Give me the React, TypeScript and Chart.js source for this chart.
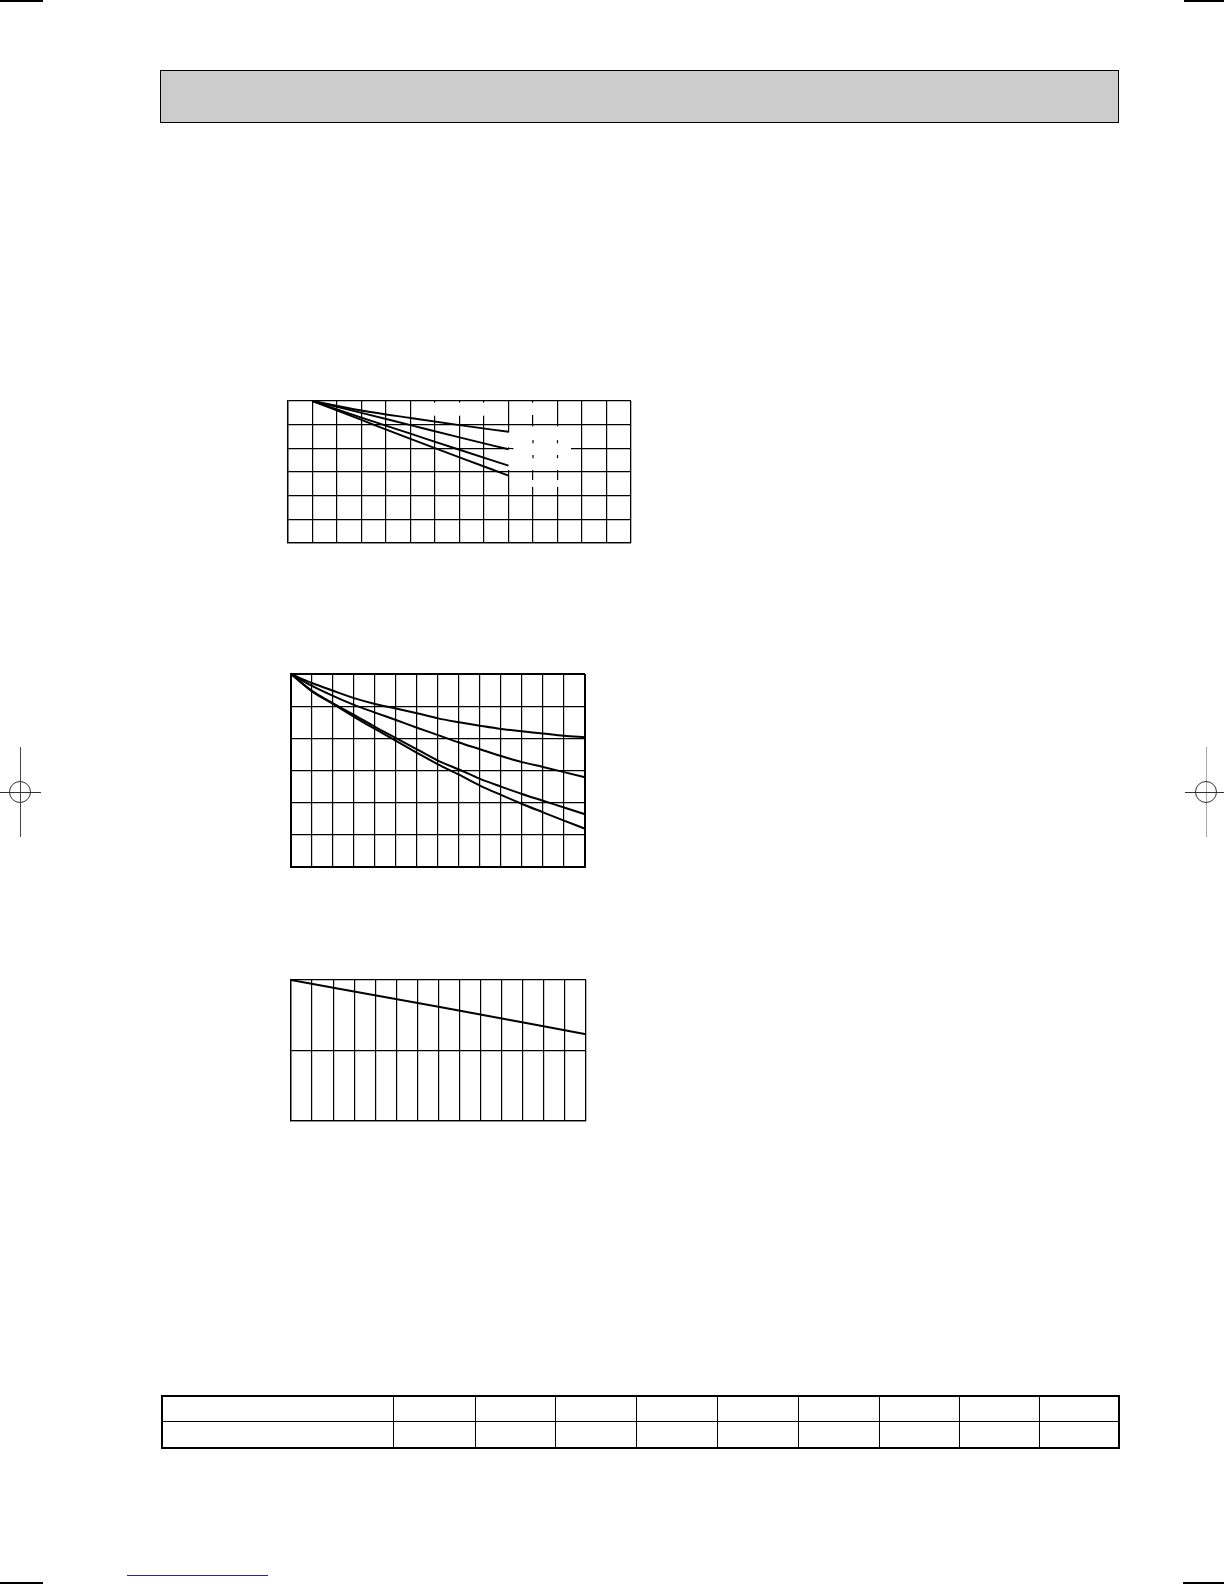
import { useEffect, useRef } from "react";
import { Chart, registerables } from "chart.js";

Chart.register(...registerables);

// chart 1: x in grid columns (0..14), y in grid rows counted downward (0..6)
const c1X = [1, 3, 5, 7, 9];
const c1A = [0, 0.4, 0.72, 1.02, 1.3];
const c1B = [0, 0.5, 1.02, 1.54, 2.04];
const c1C = [0, 0.7, 1.38, 2.06, 2.73];
const c1D = [0, 0.8, 1.6, 2.38, 3.15];
// small tick remnants left inside the blanked area
const c1DotX = [10, 11, 10, 11];
const c1DotY = [1.72, 1.72, 2.35, 2.35];
// blanked grid regions [x0, x1, y0, y1]
const c1Blank: number[][] = [
  [5.7, 8.3, 0.07, 0.62],
  [9.7, 10.3, 0.07, 0.59],
  [9.2, 11.55, 1.07, 2.92],
  [8.85, 9.15, 1.33, 1.96],
  [8.85, 9.15, 2.04, 2.92],
  [9.7, 11.3, 3.34, 3.63],
];

// chart 2
const c2X = [0, 1, 2, 3, 4, 5, 6, 7, 8, 9, 10, 11, 12, 13, 14];
const c2A = [0, 0.28, 0.52, 0.75, 0.93, 1.07, 1.22, 1.38, 1.5, 1.61, 1.71, 1.78, 1.85, 1.92, 1.97];
const c2B = [0, 0.37, 0.68, 0.96, 1.2, 1.43, 1.67, 1.9, 2.13, 2.34, 2.55, 2.74, 2.89, 3.05, 3.21];
const c2C = [0, 0.52, 0.91, 1.27, 1.64, 1.99, 2.34, 2.69, 2.97, 3.26, 3.5, 3.73, 3.94, 4.15, 4.36];
const c2D = [0, 0.54, 0.93, 1.33, 1.71, 2.08, 2.45, 2.81, 3.13, 3.47, 3.76, 4.04, 4.3, 4.56, 4.81];

// chart 3
const c3X = [0, 7, 14];
const c3A = [0, 0.38, 0.77];

type Series = { xs: number[]; ys: number[] };

type GridProps = {
  left: number;
  top: number;
  width: number;
  height: number;
  cols: number;
  rows: number;
  series: Series[];
  blanks?: number[][];
  dots?: Series;
  frame?: number;
  grid?: number;
  stroke?: number;
};

const PAD = 6;

function GridChart({
  left,
  top,
  width,
  height,
  cols,
  rows,
  series,
  blanks = [],
  dots,
  frame = 1.3,
  grid = 1.2,
  stroke = 1.8,
}: GridProps) {
  const canvasRef = useRef<HTMLCanvasElement | null>(null);

  useEffect(() => {
    if (!canvasRef.current) return;
    const blankPlugin = {
      id: "blanks",
      beforeDatasetsDraw(chart: any) {
        const { ctx, scales } = chart;
        ctx.save();
        ctx.fillStyle = "#fff";
        for (const [x0, x1, y0, y1] of blanks) {
          const px0 = scales.x.getPixelForValue(x0);
          const px1 = scales.x.getPixelForValue(x1);
          const py0 = scales.y.getPixelForValue(y0);
          const py1 = scales.y.getPixelForValue(y1);
          ctx.fillRect(px0, Math.min(py0, py1), px1 - px0, Math.abs(py1 - py0));
        }
        ctx.restore();
      },
    };

    const datasets: any[] = series.map((s) => ({
      data: s.xs.map((x, i) => ({ x, y: s.ys[i] })),
      borderColor: "#000",
      borderWidth: stroke,
      pointRadius: 0,
      cubicInterpolationMode: "monotone",
      clip: false,
    }));
    if (dots) {
      datasets.push({
        data: dots.xs.map((x, i) => ({ x, y: dots.ys[i] })),
        showLine: false,
        pointStyle: "line",
        rotation: 90,
        pointRadius: 1.6,
        borderColor: "#000",
        borderWidth: 1.2,
      });
    }

    const chart = new Chart(canvasRef.current, {
      type: "line",
      data: { datasets },
      plugins: [blankPlugin],
      options: {
        responsive: false,
        animation: false,
        events: [],
        layout: { padding: PAD },
        plugins: { legend: { display: false }, tooltip: { enabled: false } },
        scales: {
          x: {
            type: "linear",
            min: 0,
            max: cols,
            ticks: { display: false, stepSize: 1 },
            grid: {
              drawTicks: false,
              color: "#000",
              lineWidth: (c: any) => (c.index === 0 || c.index === cols ? frame : grid),
            },
            border: { display: true, color: "#000", width: frame },
          },
          y: {
            type: "linear",
            min: 0,
            max: rows,
            reverse: true,
            ticks: { display: false, stepSize: 1 },
            grid: {
              drawTicks: false,
              color: "#000",
              lineWidth: (c: any) => (c.index === 0 || c.index === rows ? frame : grid),
            },
            border: { display: true, color: "#000", width: frame },
          },
        },
      },
    });

    return () => {
      chart.destroy();
    };
  }, []);

  return (
    <canvas
      ref={canvasRef}
      width={width + PAD * 2}
      height={height + PAD * 2}
      style={{
        position: "absolute",
        left: left - PAD,
        top: top - PAD,
        width: width + PAD * 2,
        height: height + PAD * 2,
      }}
    />
  );
}

const line = (left: number, top: number, width: number, height: number, color = "#000") => (
  <div style={{ position: "absolute", left, top, width, height, background: color }} />
);

function RegMark({ cx, cy, vColor }: { cx: number; cy: number; vColor: string }) {
  return (
    <>
      {line(cx, cy - 45, 1, 90, vColor)}
      {line(cx - 21, cy, 42, 1, "#333")}
      <div
        style={{
          position: "absolute",
          left: cx - 11,
          top: cy - 11,
          width: 22,
          height: 22,
          borderRadius: "50%",
          border: "1px solid #333",
          boxSizing: "border-box",
        }}
      />
    </>
  );
}

const tableCols = [231, 82, 80, 81, 81, 81, 81, 80, 80, 80];

export default function App() {
  const cell = { border: "1.3px solid #000", padding: 0 };
  return (
    <div
      style={{
        position: "absolute",
        left: 0,
        top: 0,
        width: 1224,
        height: 1584,
        background: "#fff",
        overflow: "hidden",
        fontFamily: "Liberation Sans, Arial, sans-serif",
      }}
    >
      {/* crop marks */}
      {line(0, 0, 43, 2)}
      {line(1184, 0, 40, 2)}
      {line(0, 1582, 43, 2)}
      {line(1183, 1582, 41, 2)}
      {line(127, 1575, 141, 1, "#1c2c8c")}
      <RegMark cx={20} cy={792} vColor="#444" />
      <RegMark cx={1206} cy={792} vColor="#aaa" />

      {/* header bar */}
      <div
        style={{
          position: "absolute",
          left: 160,
          top: 70,
          width: 959,
          height: 53,
          background: "#cccccc",
          border: "1.3px solid #000",
          boxSizing: "border-box",
        }}
      />

      <GridChart
        left={288}
        top={401}
        width={343}
        height={142}
        cols={14}
        rows={6}
        series={[
          { xs: c1X, ys: c1A },
          { xs: c1X, ys: c1B },
          { xs: c1X, ys: c1C },
          { xs: c1X, ys: c1D },
        ]}
        blanks={c1Blank}
        dots={{ xs: c1DotX, ys: c1DotY }}
        frame={1.3}
        stroke={1.9}
      />
      <GridChart
        left={291}
        top={674}
        width={294}
        height={193}
        cols={14}
        rows={6}
        series={[
          { xs: c2X, ys: c2A },
          { xs: c2X, ys: c2B },
          { xs: c2X, ys: c2C },
          { xs: c2X, ys: c2D },
        ]}
        frame={2}
        stroke={2}
      />
      <GridChart
        left={291}
        top={980}
        width={295}
        height={141}
        cols={14}
        rows={2}
        series={[{ xs: c3X, ys: c3A }]}
        frame={1.3}
        stroke={2}
      />

      <table
        style={{
          position: "absolute",
          left: 161,
          top: 1395,
          width: 957,
          height: 52,
          borderCollapse: "collapse",
          tableLayout: "fixed",
          border: "2px solid #000",
        }}
      >
        <colgroup>
          {tableCols.map((w, i) => (
            <col key={i} style={{ width: w }} />
          ))}
        </colgroup>
        <tbody>
          <tr style={{ height: 25 }}>
            {tableCols.map((_, i) => (
              <td key={i} style={cell} />
            ))}
          </tr>
          <tr style={{ height: 27 }}>
            {tableCols.map((_, i) => (
              <td key={i} style={cell} />
            ))}
          </tr>
        </tbody>
      </table>
    </div>
  );
}
